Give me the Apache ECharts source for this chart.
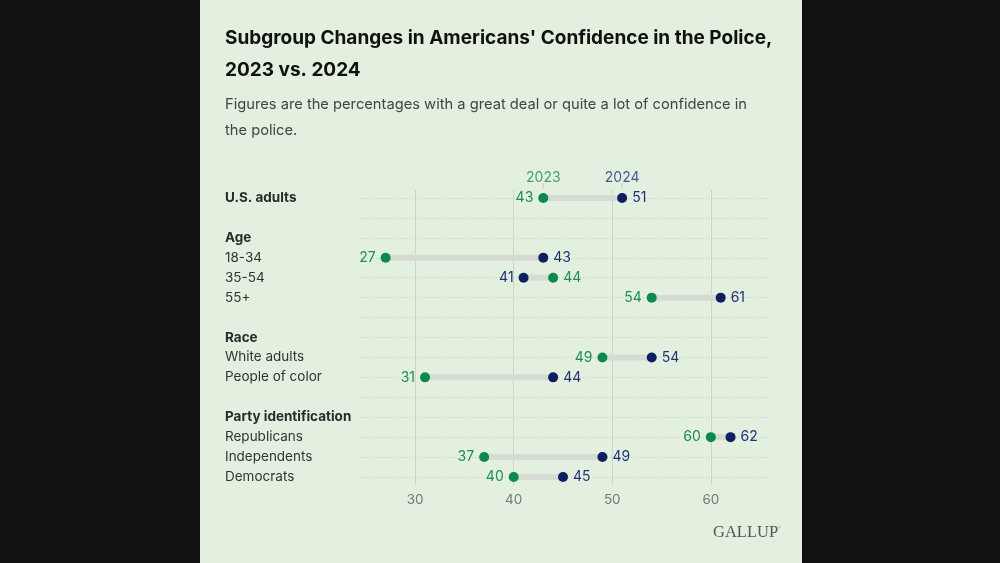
<!DOCTYPE html>
<html>
<head>
<meta charset="utf-8">
<script src="https://cdn.jsdelivr.net/npm/echarts@6/dist/echarts.min.js"></script>
<style>
html,body{margin:0;padding:0;background:#111;}
#c{width:1000px;height:563px;}
</style>
</head>
<body>
<div id="c"></div>
<script>
const categories = ['U.S. adults', '', 'Age', '18-34', '35-54', '55+', '', 'Race', 'White adults', 'People of color', '', 'Party identification', 'Republicans', 'Independents', 'Democrats'];
const headerRows = ['U.S. adults', 'Age', 'Race', 'Party identification'];
const values2023 = [43, null, null, 27, 44, 54, null, null, 49, 31, null, null, 60, 37, 40];
const values2024 = [51, null, null, 43, 41, 61, null, null, 54, 44, null, null, 62, 49, 45];
const xTicks = [30, 40, 50, 60];
const legendNames = ['2023', '2024'];

const GREEN = '#0b8a4e', NAVY = '#0c1f63';
const GREEN_T = '#1c8f52', NAVY_T = '#1f3277';
const FONT = 'Inter';
const XMIN = 24.2, XMAX = 65.8;

const pts23 = [], pts24 = [], bars = [];
categories.forEach((c, i) => {
  const a = values2023[i], b = values2024[i];
  if (a == null || b == null) return;
  pts23.push({value: [a, i], label: {position: a <= b ? 'left' : 'right'}});
  pts24.push({value: [b, i], label: {position: b > a ? 'right' : 'left'}});
  bars.push([a, b, i]);
});

const chart = echarts.init(document.getElementById('c'), null, {renderer: 'canvas'});
const valLabel = (color) => ({show: true, distance: 5, fontFamily: FONT, fontSize: 14, color: color, formatter: p => p.value[0]});

chart.setOption({
  backgroundColor: '#111',
  animation: false,
  textStyle: {fontFamily: FONT},
  title: [
    {text: "Subgroup Changes in Americans' Confidence in the Police,\n2023 vs. 2024", left: 220, top: 17,
     textStyle: {fontFamily: FONT, fontSize: 19, fontWeight: 'bold', color: '#111', lineHeight: 32}},
    {text: 'Figures are the percentages with a great deal or quite a lot of confidence in\nthe police.', left: 220, top: 87,
     textStyle: {fontFamily: FONT, fontSize: 14.7, fontWeight: 'normal', color: '#444', lineHeight: 26}}
  ],
  graphic: [
    {type: 'rect', z: -100, silent: true, shape: {x: 200, y: 0, width: 602, height: 563}, style: {fill: '#e3f0df'}},
    {type: 'text', left: 713, top: 524, style: {text: 'GALLUP', font: '16.5px "Liberation Serif"', fill: '#555'}},
    {type: 'text', left: 777, top: 525, style: {text: '®', font: '5px "Liberation Serif"', fill: '#777'}}
  ],
  grid: [
    {left: 358, width: 410, top: 198, height: 279},
    {left: 358, width: 410, top: 190, height: 295}
  ],
  xAxis: [
    {gridIndex: 0, type: 'value', min: XMIN, max: XMAX, show: false, splitLine: {show: false}},
    {gridIndex: 1, type: 'value', min: XMIN, max: XMAX,
     axisLine: {show: false},
     axisTick: {show: false, customValues: xTicks},
     axisLabel: {customValues: xTicks, margin: 8, fontFamily: FONT, fontSize: 13.5, color: '#777'},
     splitLine: {show: true, lineStyle: {color: '#cad7c6', width: 1}}}
  ],
  yAxis: [
    {gridIndex: 0, type: 'category', data: categories, inverse: true, boundaryGap: false,
     axisLine: {show: false}, axisTick: {show: false},
     axisLabel: {interval: 0, align: 'left', margin: 133, fontFamily: FONT, fontSize: 13.5, color: '#333',
       formatter: v => headerRows.includes(v) ? '{h|' + v + '}' : v,
       rich: {h: {fontFamily: FONT, fontSize: 13.5, fontWeight: 'bold', color: '#2a2a2a'}}},
     splitLine: {show: true, interval: 0, lineStyle: {type: [1, 2], color: '#c4cfc1', width: 1}}},
    {gridIndex: 1, type: 'value', show: false, min: 0, max: 1, splitLine: {show: false}}
  ],
  series: [
    {type: 'custom', xAxisIndex: 0, yAxisIndex: 0, data: bars, encode: {x: [0, 1], y: 2}, z: 1,
     renderItem: (params, api) => {
       const p1 = api.coord([api.value(0), api.value(2)]);
       const p2 = api.coord([api.value(1), api.value(2)]);
       return {type: 'line', shape: {x1: p1[0], y1: p1[1], x2: p2[0], y2: p2[1]},
               style: {stroke: '#d6dbd3', lineWidth: 6}};
     }},
    {type: 'scatter', name: '2023', xAxisIndex: 0, yAxisIndex: 0, symbolSize: 10, z: 3,
     itemStyle: {color: GREEN, opacity: 1}, label: valLabel(GREEN_T), data: pts23},
    {type: 'scatter', name: '2024', xAxisIndex: 0, yAxisIndex: 0, symbolSize: 10, z: 3,
     itemStyle: {color: NAVY, opacity: 1}, label: valLabel(NAVY_T), data: pts24},
    {type: 'scatter', xAxisIndex: 0, yAxisIndex: 0, symbol: 'rect', symbolSize: [1, 6], symbolOffset: [0, -12], z: 2,
     itemStyle: {color: '#b9c4b6'},
     label: {show: true, position: 'top', distance: -2, fontFamily: FONT, fontSize: 14, formatter: p => p.data.name},
     data: [
       {name: legendNames[0], value: [values2023[0], 0], label: {color: GREEN_T}},
       {name: legendNames[1], value: [values2024[0], 0], label: {color: NAVY_T}}
     ]}
  ]
});
</script>
</body>
</html>
